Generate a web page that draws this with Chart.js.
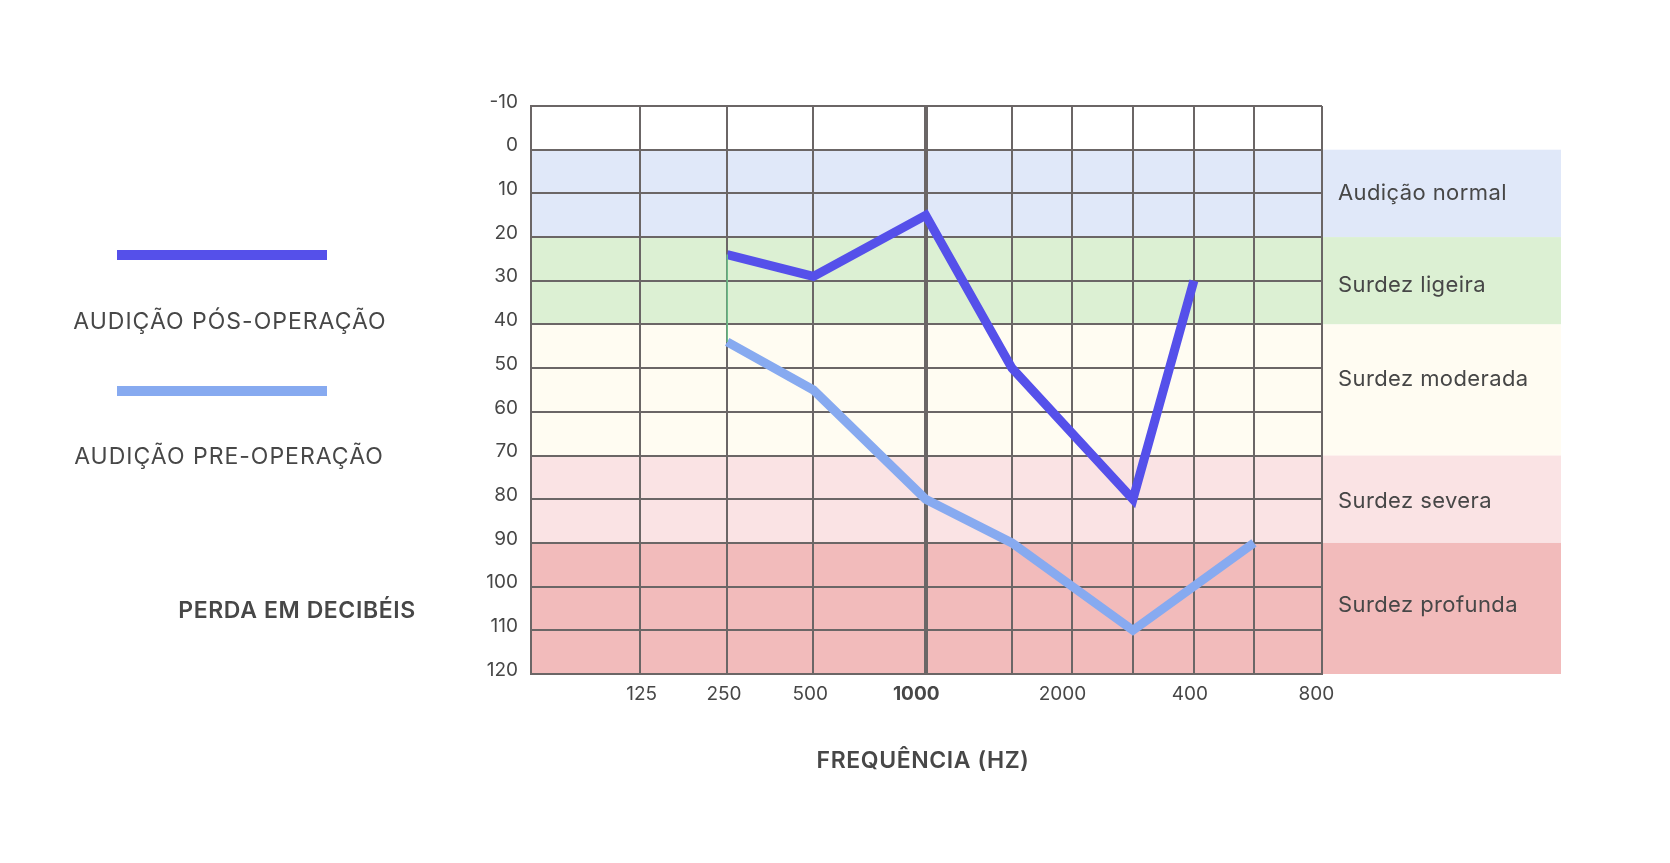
<!DOCTYPE html>
<html>
<head>
<meta charset="utf-8">
<script src="https://cdn.jsdelivr.net/npm/chart.js@4.4.1/dist/chart.umd.min.js"></script>
<style>
html,body{margin:0;padding:0;background:#fff;}
#wrap{width:1670px;height:863px;position:relative;}
</style>
</head>
<body>
<div id="wrap"><canvas id="audiogram"></canvas></div>
<script>
// vertical grid lines of the audiogram (axis units)
const gridSlots=[0,13.8,24.8,35.7,49.9,60.8,68.4,76.1,83.8,91.4,100];
// frequency labels and where they sit on the same axis
const freqLabels=['125','250','500','1000','2000','400','800'];
const freqLabelPos=[14.0,24.4,35.3,48.7,67.2,83.3,99.3];
const dbMin=-10, dbMax=120, dbStep=10;

// hearing curves: index into gridSlots + loss in dB
const postOpSlots=[2,3,4,5,7,8];
const postOpValues=[24,29,15,50,80,30];
const preOpSlots=[2,3,4,5,7,9];
const preOpValues=[44,55,80,90,110,90];

// hearing loss bands
const bandLimits=[0,20,40,70,90,120];
const bandNames=['Audição normal','Surdez ligeira','Surdez moderada','Surdez severa','Surdez profunda'];
const bandColors=['#e0e8f9','#dcf0d3','#fffcf2','#fae3e4','#f2bbbb'];
const bandLabelShift=[0,5,-11,2,-3];

const seriesNames=['AUDIÇÃO PÓS-OPERAÇÃO','AUDIÇÃO PRE-OPERAÇÃO'];
const postColor='#5550ea', preColor='#87aaf0', gridColor='#6b6666', textColor='#474747';

function toPoints(slots,values){
    return slots.map((s,i)=>({x:gridSlots[s],y:values[i]}));
}

const decor={
    id:'decor',
    beforeDraw(chart){
        const {ctx,chartArea:a,scales:{y}}=chart;
        ctx.save();
        bandNames.forEach((n,i)=>{
            const t=y.getPixelForValue(bandLimits[i]);
            const b=y.getPixelForValue(bandLimits[i+1]);
            ctx.fillStyle=bandColors[i];
            ctx.fillRect(a.left,t,a.right+239-a.left,b-t);
        });
        ctx.restore();
    },
    afterDraw(chart){
        const {ctx,chartArea:a,scales:{y}}=chart;
        ctx.save();
        ctx.fillStyle=textColor;
        ctx.textBaseline='middle';
        ctx.textAlign='left';
        ctx.font='400 22px Inter';
        ctx.letterSpacing='0.4px';
        bandNames.forEach((n,i)=>{
            const mid=(y.getPixelForValue(bandLimits[i])+y.getPixelForValue(bandLimits[i+1]))/2;
            ctx.fillText(n,a.right+16,mid+bandLabelShift[i]);
        });
        // legend
        ctx.lineWidth=10;
        ctx.strokeStyle=postColor;
        ctx.beginPath();ctx.moveTo(117,255);ctx.lineTo(327,255);ctx.stroke();
        ctx.strokeStyle=preColor;
        ctx.beginPath();ctx.moveTo(117,391);ctx.lineTo(327,391);ctx.stroke();
        ctx.textAlign='center';
        ctx.font='400 23px Inter';
        ctx.letterSpacing='1px';
        ctx.fillText(seriesNames[0],230,322);
        ctx.fillText(seriesNames[1],229,457);
        // axis titles
        ctx.font='600 23px Inter';
        ctx.letterSpacing='0.6px';
        ctx.fillText('PERDA EM DECIBÉIS',297,611);
        ctx.fillText('FREQUÊNCIA (HZ)',923,761);
        ctx.restore();
    }
};

new Chart(document.getElementById('audiogram'),{
    type:'line',
    data:{
        datasets:[
            {
                data:[toPoints(postOpSlots,postOpValues)[0],toPoints(preOpSlots,preOpValues)[0]],
                borderColor:'#6cc48a',
                borderWidth:1.5,
                pointRadius:0
            },
            {
                label:seriesNames[0],
                data:toPoints(postOpSlots,postOpValues),
                borderColor:postColor,
                borderWidth:9,
                borderJoinStyle:'miter',
                pointRadius:0,
                tension:0
            },
            {
                label:seriesNames[1],
                data:toPoints(preOpSlots,preOpValues),
                borderColor:preColor,
                borderWidth:9,
                borderJoinStyle:'miter',
                pointRadius:0,
                tension:0
            }
        ]
    },
    options:{
        responsive:true,
        maintainAspectRatio:false,
        animation:false,
        layout:{padding:{left:0,top:106,right:348,bottom:149}},
        plugins:{legend:{display:false},tooltip:{enabled:false}},
        scales:{
            x:{
                type:'linear',
                position:'bottom',
                weight:1,
                min:gridSlots[0],
                max:gridSlots[gridSlots.length-1],
                afterBuildTicks:s=>{s.ticks=gridSlots.map(v=>({value:v}));},
                afterFit:s=>{s.height=0;},
                grid:{
                    color:gridColor,
                    lineWidth:c=>c.index===4?4:2,
                    drawTicks:false
                },
                border:{color:gridColor,width:2},
                ticks:{display:false}
            },
            xLabels:{
                type:'linear',
                position:'bottom',
                weight:2,
                min:gridSlots[0],
                max:gridSlots[gridSlots.length-1],
                afterBuildTicks:s=>{s.ticks=freqLabelPos.map(v=>({value:v}));},
                afterFit:s=>{s.height=40;},
                grid:{display:false,drawTicks:false},
                border:{display:false},
                ticks:{
                    autoSkip:false,
                    maxRotation:0,
                    padding:9,
                    color:textColor,
                    font:c=>({family:'Inter',size:19,weight:freqLabels[c.index]==='1000'?'700':'400'}),
                    callback:(v,i)=>freqLabels[i]
                }
            },
            y:{
                reverse:true,
                min:dbMin,
                max:dbMax,
                afterFit:s=>{s.width=531;},
                grid:{color:gridColor,lineWidth:2,drawTicks:false},
                border:{color:gridColor,width:2},
                ticks:{
                    stepSize:dbStep,
                    padding:13,
                    labelOffset:-4,
                    color:textColor,
                    font:{family:'Inter',size:19}
                }
            }
        }
    },
    plugins:[decor]
});
</script>
</body>
</html>
